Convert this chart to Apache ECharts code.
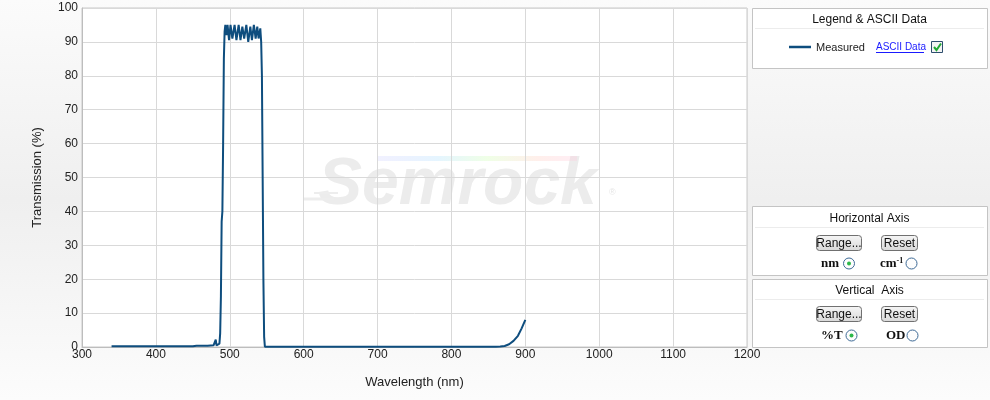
<!DOCTYPE html>
<html><head><meta charset="utf-8">
<script src="https://cdn.jsdelivr.net/npm/echarts@6/dist/echarts.min.js"></script>
<style>html,body{margin:0;padding:0;}#c{width:990px;height:400px;}</style>
</head><body><div id="c"></div>
<script>
// ---- data ----
const wavelengths = [340, 400, 450, 455, 470, 478, 480, 481, 482, 484, 486, 487, 488, 489, 490, 491, 492, 493, 494, 495.5, 497, 499, 501, 503.5, 506.5, 509, 512, 514.5, 517, 519.5, 522.4, 525, 527.8, 530, 532.6, 535, 537.2, 539, 541.3, 542.5, 543.5, 544.5, 545.5, 546.5, 547.5, 600, 700, 800, 860, 866, 872, 878, 884, 890, 895, 900];
const transmission = [0.2, 0.2, 0.2, 0.4, 0.4, 0.5, 0.8, 2.2, 0.5, 0.4, 1.0, 4, 15, 37, 40, 60, 85, 93, 95, 92, 95, 90.5, 95, 91, 95, 90.5, 95, 90.5, 94.5, 91, 95, 90, 94.5, 90.5, 95, 91, 94.5, 91, 94, 90, 80, 50, 20, 3, 0.1, 0.1, 0.1, 0.1, 0.1, 0.15, 0.3, 0.8, 1.8, 3.3, 5.5, 8];
const xTicks = [300, 400, 500, 600, 700, 800, 900, 1000, 1100, 1200];
const yTicks = [0, 10, 20, 30, 40, 50, 60, 70, 80, 90, 100];
const seriesName = 'Measured';

const points = wavelengths.map((w, i) => [w, transmission[i]]);
const chart = echarts.init(document.getElementById('c'), null, {renderer: 'canvas'});
const lineColor = '#0e4d7e';
const sans = 'Liberation Sans, Arial, sans-serif';
const serif = 'Liberation Serif, Times New Roman, serif';

function panel(x, y, w, h, title, titleY, sepY) {
  return [
    {type: 'rect', shape: {x: x + 0.5, y: y + 0.5, width: w, height: h}, style: {fill: '#fff', stroke: '#c4c4c4', lineWidth: 1}, z: 1},
    {type: 'text', x: x + w / 2, y: titleY, style: {text: title, fill: '#111', font: '12px ' + sans, textAlign: 'center', textVerticalAlign: 'middle'}, z: 2},
    {type: 'line', shape: {x1: x + 3, y1: sepY + 0.5, x2: x + w - 3, y2: sepY + 0.5}, style: {stroke: '#ececec', lineWidth: 1}, z: 2}
  ];
}
function button(x, y, w, h, label) {
  return [
    {type: 'rect', shape: {x: x + 0.5, y: y + 0.5, width: w, height: h, r: 3},
      style: {fill: {type: 'linear', x: 0, y: 0, x2: 0, y2: 1, colorStops: [{offset: 0, color: '#f6f6f6'}, {offset: 1, color: '#d8d8d8'}]}, stroke: '#707070', lineWidth: 1}, z: 2},
    {type: 'text', x: x + w / 2 + 0.5, y: y + h / 2 + 1, style: {text: label, fill: '#111', font: '12px ' + sans, textAlign: 'center', textVerticalAlign: 'middle'}, z: 3}
  ];
}
function radio(cx, cy, checked) {
  const els = [{type: 'circle', shape: {cx: cx, cy: cy, r: 5.5}, style: {fill: '#fdfdfd', stroke: '#3d6a96', lineWidth: 1}, z: 3}];
  if (checked) els.push({type: 'circle', shape: {cx: cx, cy: cy, r: 2}, style: {fill: '#2db84a'}, z: 4});
  return els;
}
function boldLabel(x, y, text) {
  return {type: 'text', x: x, y: y, style: {text: text, fill: '#111', font: 'bold 13px ' + serif, textAlign: 'left', textVerticalAlign: 'middle'}, z: 3};
}

const graphics = [
  // plot background + watermark
  {type: 'rect', shape: {x: 82, y: 8, width: 665, height: 339}, style: {fill: '#ffffff'}, z: -10, silent: true},
  {type: 'text', x: 318, y: 219, style: {text: 'Semrock', fill: '#ececec', font: 'italic bold 66px ' + sans, textAlign: 'left', textVerticalAlign: 'bottom'}, z: -5, silent: true},
  {type: 'rect', shape: {x: 377, y: 156, width: 200, height: 5},
    style: {fill: {type: 'linear', x: 0, y: 0, x2: 1, y2: 0, colorStops: [
      {offset: 0, color: 'rgba(200,200,255,0.25)'}, {offset: 0.3, color: 'rgba(190,230,255,0.4)'},
      {offset: 0.55, color: 'rgba(220,255,200,0.45)'}, {offset: 0.8, color: 'rgba(255,220,210,0.45)'}, {offset: 1, color: 'rgba(255,200,220,0.3)'}]}},
    z: -4, silent: true},
  {type: 'line', shape: {x1: 304, y1: 199, x2: 334, y2: 199}, style: {stroke: '#ededed', lineWidth: 3}, z: -5, silent: true},
  {type: 'line', shape: {x1: 314, y1: 193, x2: 338, y2: 193}, style: {stroke: '#ededed', lineWidth: 2}, z: -5, silent: true},
  {type: 'text', x: 609, y: 193, style: {text: '®', fill: '#e6e6e6', font: '9px ' + sans, textAlign: 'left', textVerticalAlign: 'middle'}, z: -5, silent: true},

  // legend panel
  ...panel(752, 8, 235, 60, 'Legend & ASCII Data', 20, 28),
  {type: 'line', shape: {x1: 789, y1: 47, x2: 811, y2: 47}, style: {stroke: lineColor, lineWidth: 2.5}, z: 3},
  {type: 'text', x: 816, y: 48, style: {text: seriesName, fill: '#222', font: '11px ' + sans, textAlign: 'left', textVerticalAlign: 'middle'}, z: 3},
  {type: 'text', x: 876, y: 47, style: {text: 'ASCII Data', fill: '#1a1aff', font: '10px ' + sans, textAlign: 'left', textVerticalAlign: 'middle'}, z: 3},
  {type: 'line', shape: {x1: 876, y1: 52.5, x2: 924, y2: 52.5}, style: {stroke: '#1a1aff', lineWidth: 1}, z: 3},
  {type: 'rect', shape: {x: 931.5, y: 41.5, width: 11, height: 11}, style: {fill: '#f4f4f4', stroke: '#2e4e6e', lineWidth: 1}, z: 3},
  {type: 'polyline', shape: {points: [[934, 47], [936.5, 50], [941, 43.5]]}, style: {stroke: '#22aa33', lineWidth: 2, fill: null}, z: 4},

  // horizontal axis panel
  ...panel(752, 206, 235, 69, 'Horizontal Axis', 219, 227),
  ...button(816, 235, 45, 15, 'Range...'),
  ...button(881, 235, 36, 15, 'Reset'),
  boldLabel(821, 264, 'nm'),
  ...radio(849, 263.5, true),
  {type: 'text', x: 880, y: 264, style: {rich: {a: {fill: '#111', font: 'bold 13px ' + serif}, s: {fill: '#111', font: 'bold 8px ' + serif, verticalAlign: 'top', padding: [0, 0, 6, 0]}}, text: '{a|cm}{s|-1}', textAlign: 'left', textVerticalAlign: 'middle'}, z: 3},
  ...radio(911.5, 263.5, false),

  // vertical axis panel
  ...panel(752, 279, 235, 68, 'Vertical  Axis', 291, 299),
  ...button(816, 306, 45, 15, 'Range...'),
  ...button(881, 306, 36, 15, 'Reset'),
  boldLabel(821, 336, '%T'),
  ...radio(851.5, 335.5, true),
  boldLabel(886, 336, 'OD'),
  ...radio(912.5, 335.5, false)
];

const option = {
  animation: false,
  backgroundColor: {type: 'linear', x: 0, y: 0, x2: 0, y2: 1, colorStops: [
    {offset: 0, color: '#fbfbfb'}, {offset: 0.5, color: '#efefef'}, {offset: 1, color: '#fcfcfc'}]},
  grid: {left: 82, top: 8, width: 665, height: 339, show: true, borderColor: '#c8c8c8', borderWidth: 1, backgroundColor: 'transparent'},
  xAxis: {
    type: 'value', min: xTicks[0], max: xTicks[xTicks.length - 1], interval: 100,
    name: 'Wavelength (nm)', nameLocation: 'middle', nameGap: 29,
    nameTextStyle: {fontSize: 13, color: '#222', fontFamily: sans},
    axisLine: {show: true, lineStyle: {color: '#bdbdbd'}},
    axisTick: {show: false},
    axisLabel: {fontSize: 12, color: '#222', margin: 2, fontFamily: sans, formatter: v => String(v)},
    splitLine: {show: true, lineStyle: {color: '#d9d9d9', width: 1}}
  },
  yAxis: {
    type: 'value', min: yTicks[0], max: yTicks[yTicks.length - 1], interval: 10,
    name: 'Transmission (%)', nameLocation: 'middle', nameGap: 38, nameRotate: 90,
    nameTextStyle: {fontSize: 13, color: '#222', fontFamily: sans},
    axisLine: {show: true, lineStyle: {color: '#bdbdbd'}},
    axisTick: {show: false},
    axisLabel: {fontSize: 12, color: '#222', margin: 4, fontFamily: sans, formatter: v => String(v)},
    splitLine: {show: true, lineStyle: {color: '#d9d9d9', width: 1}}
  },
  series: [{
    name: seriesName, type: 'line', data: points, showSymbol: false, symbol: 'none',
    lineStyle: {color: lineColor, width: 2}, z: 5, clip: true
  }],
  graphic: {elements: graphics}
};
chart.setOption(option);
</script>
</body></html>
